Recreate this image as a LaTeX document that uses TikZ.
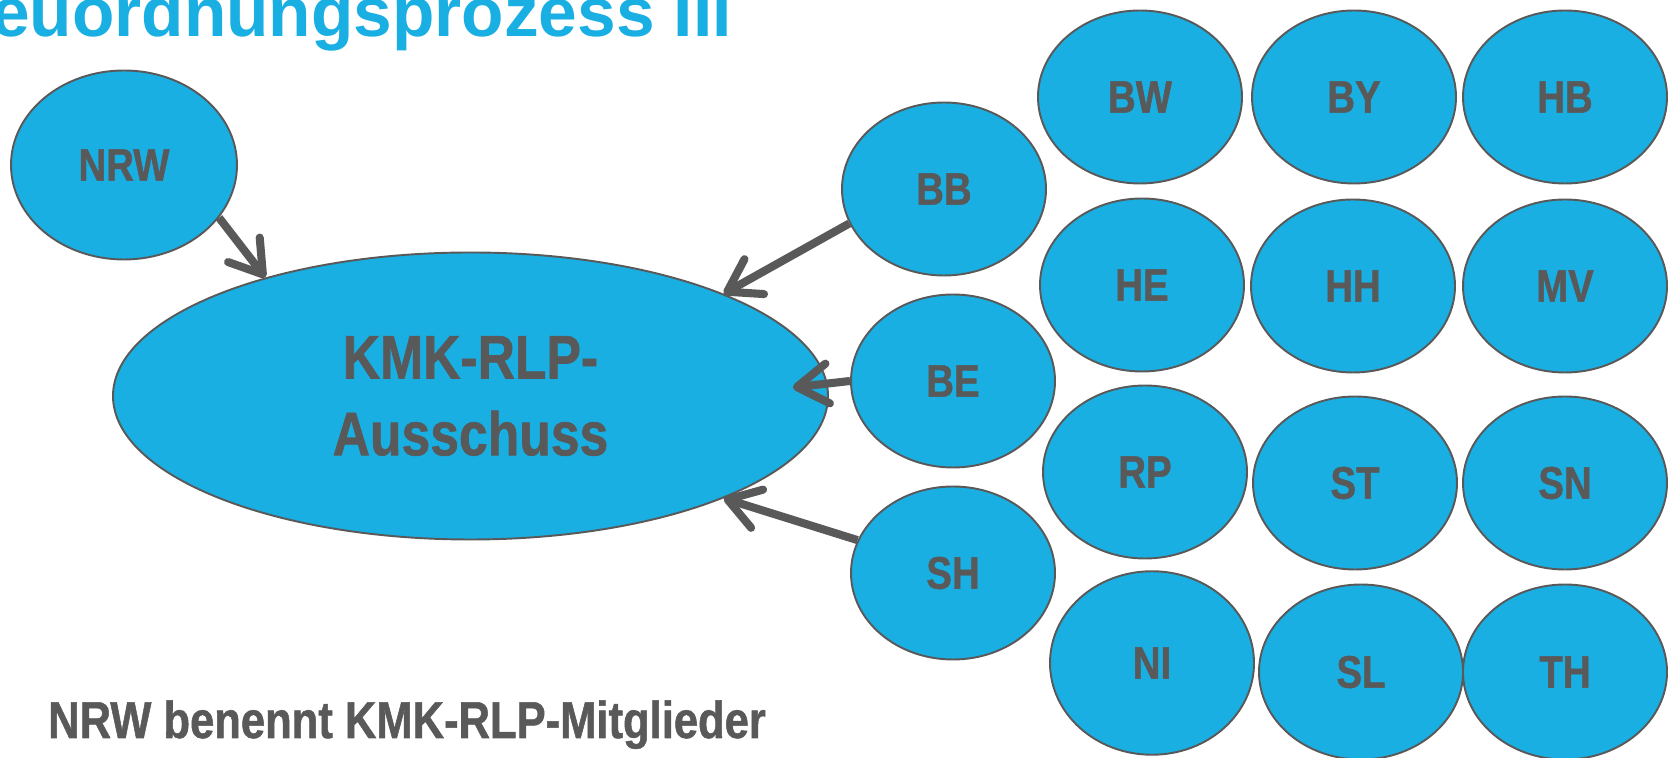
\documentclass[tikz,border=0pt]{standalone}
\usepackage{fontspec}
\setmainfont{Liberation Sans}
\newfontfamily\schmal{Liberation Sans}[FakeStretch=0.84,FakeBold=1]
\usepackage{tikz}
\usetikzlibrary{shapes.geometric,arrows.meta}

\definecolor{kmkblau}{RGB}{26,175,226}
\definecolor{kmkgrau}{RGB}{89,89,89}

\tikzset{
  land/.style={draw=kmkgrau,fill=kmkblau,ellipse,line width=1.1pt,
    minimum width=4.08cm,minimum height=3.46cm,inner sep=0pt,
    text=kmkgrau,font=\schmal\bfseries\fontsize{26}{30}\selectfont},
  pfeil/.style={draw=kmkgrau,line width=4.6pt,
    -{Straight Barb[round,length=0.62cm,width=0.8cm]}}
}

\begin{document}
\begin{tikzpicture}
\clip (0,0) rectangle (33.46,15.16);

\node [anchor=base east,text=kmkblau,font=\bfseries\fontsize{39.5}{47}\selectfont] (titel) at(14.76,14.42){Neuordnungsprozess III};

\node [land,minimum width=4.52cm,minimum height=3.78cm] (nrw) at(2.48,11.86){NRW};
\node [land,minimum width=14.3cm,minimum height=5.74cm,align=center,
  font=\schmal\bfseries\fontsize{35}{43.7}\selectfont] (kmk) at(9.41,7.24){KMK-RLP-\\Ausschuss};

\node [land] (bb) at(18.88,11.38){BB};
\node [land] (be) at(19.06,7.54){BE};
\node [land] (sh) at(19.06,3.70){SH};

\node [land] (bw) at(22.80,13.22){BW};
\node [land] (by) at(27.08,13.22){BY};
\node [land] (hb) at(31.30,13.22){HB};

\node [land] (he) at(22.84,9.46){HE};
\node [land] (hh) at(27.06,9.44){HH};
\node [land] (mv) at(31.30,9.44){MV};

\node [land] (rp) at(22.90,5.72){RP};
\node [land] (st) at(27.10,5.50){ST};
\node [land] (sn) at(31.30,5.50){SN};

\node [land,minimum height=3.67cm] (ni) at(23.04,1.90){NI};
\node [land,minimum height=3.5cm] (sl) at(27.22,1.72){SL};
\node [land,minimum height=3.5cm] (th) at(31.30,1.72){TH};

\node [anchor=base west,text=kmkgrau,font=\schmal\bfseries\fontsize{29.5}{35}\selectfont] (satz) at(0.84,0.40){NRW benennt KMK-RLP-Mitglieder};

\draw[pfeil] (nrw.-29) -- (kmk.150);
\draw[pfeil] (bb.200) -- (kmk.22);
\draw[pfeil,shorten >=-0.7cm] (be.180) -- (kmk.2);
\draw[pfeil] (sh.161) -- (kmk.-22);
\end{tikzpicture}
\end{document}
